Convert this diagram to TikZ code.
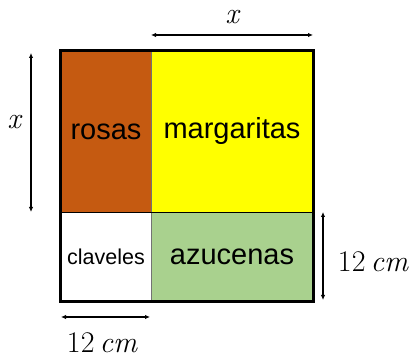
\documentclass[tikz,border=0pt]{standalone}
\usepackage{fontspec}
\newfontfamily\bedfont{Liberation Sans}
\usetikzlibrary{arrows.meta}
\definecolor{rosascol}{HTML}{C55A11}
\definecolor{margcol}{HTML}{FFFF00}
\definecolor{azucol}{HTML}{A9D18E}
\tikzset{
  bed/.style={draw=black!55, line width=0.8pt, inner sep=0pt,
    font=\bedfont\fontsize{29}{34}\selectfont},
  dim/.style={{Latex[length=5pt,width=4.5pt]}-{Latex[length=5pt,width=4.5pt]}, line width=1.2pt},
  dimlabel/.style={inner sep=0pt, font=\fontsize{30}{36}\selectfont}
}
\begin{document}
\begin{tikzpicture}[x=1pt,y=1pt]
  \useasboundingbox (0,0) rectangle (412,358);
  % flower beds
  \node[bed, fill=rosascol, minimum width=90pt, minimum height=161pt] (rosas) at (106,226.5) {rosas};
  \node[bed, fill=margcol, minimum width=162pt, minimum height=161pt] (margaritas) at (232,226.5) {margaritas};
  \node[bed, fill=white, minimum width=90pt, minimum height=89pt,
    font=\bedfont\fontsize{21.5}{26}\selectfont] (claveles) at (106,101.5) {claveles};
  \node[bed, fill=azucol, minimum width=162pt, minimum height=89pt] (azucenas) at (232,101.5) {azucenas};
  \draw[line width=0.9pt] (rosas.south west) -- (margaritas.south east);
  \draw[line width=3pt] (rosas.north west) rectangle (azucenas.south east);
  % dimensions
  \coordinate (top1) at (151,323);
  \coordinate (top2) at (313,323);
  \coordinate (left1) at (31,305);
  \coordinate (left2) at (31,146);
  \coordinate (right1) at (323,146);
  \coordinate (right2) at (323,58);
  \coordinate (bot1) at (61,41);
  \coordinate (bot2) at (150,41);
  \draw[dim] (top1) -- (top2);
  \draw[dim] (left1) -- (left2);
  \draw[dim] (right1) -- (right2);
  \draw[dim] (bot1) -- (bot2);
  \node[dimlabel] (xtop) at (232,341) {\itshape x};
  \node[dimlabel] (xleft) at (14,236) {\itshape x};
  \node[dimlabel] (cmright) at (373,96) {12\hspace{5pt}\itshape cm};
  \node[dimlabel] (cmbot) at (102,15) {12\hspace{5pt}\itshape cm};
\end{tikzpicture}
\end{document}
